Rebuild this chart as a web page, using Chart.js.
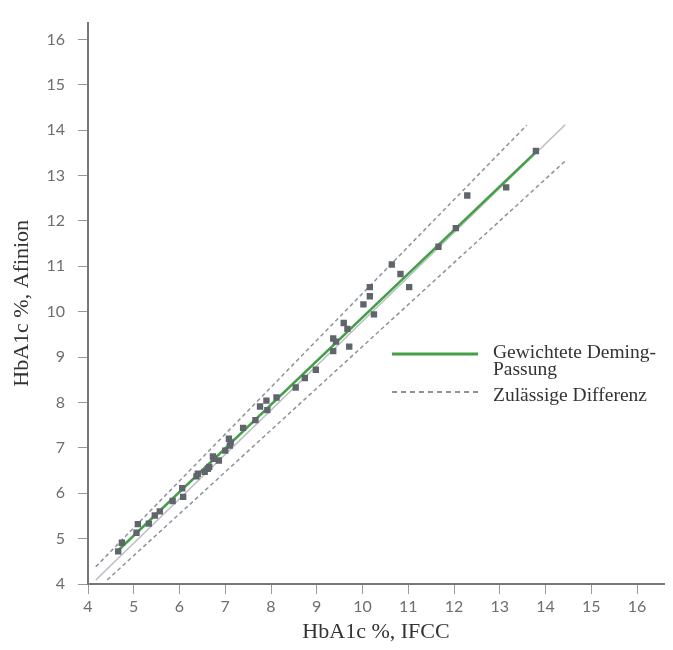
<!DOCTYPE html>
<html>
<head>
<meta charset="utf-8">
<script src="https://cdn.jsdelivr.net/npm/chart.js@4"></script>
<style>
    html, body { margin: 0; padding: 0; background: #fff; }
</style>
</head>
<body>
<canvas id="chart" width="673" height="650"></canvas>
<script>
// Messpunkte (HbA1c IFCC vs Afinion)
const ifcc = [4.66, 4.74, 5.06, 5.09, 5.33, 5.46, 5.57, 5.85, 6.06, 6.08, 6.37, 6.40, 6.55, 6.62, 6.65, 6.73, 6.75, 6.86, 7.00, 7.08,
    7.10, 7.12, 7.39, 7.66, 7.76, 7.90, 7.92, 8.12, 8.54, 8.74, 8.98, 9.36, 9.36, 9.42, 9.59, 9.67, 9.71, 10.02, 10.16, 10.16,
    10.25, 10.64, 10.83, 11.02, 11.66, 12.04, 12.29, 13.14, 13.79]
const afinion = [4.72, 4.91, 5.13, 5.32, 5.33, 5.51, 5.60, 5.83, 6.11, 5.92, 6.37, 6.43, 6.47, 6.54, 6.58, 6.81, 6.76, 6.72, 6.94, 7.20,
    7.05, 7.12, 7.44, 7.61, 7.91, 8.04, 7.83, 8.11, 8.33, 8.54, 8.72, 9.13, 9.41, 9.34, 9.75, 9.62, 9.23, 10.16, 10.54, 10.34,
    9.94, 11.04, 10.83, 10.54, 11.43, 11.84, 12.56, 12.74, 13.54]

// Linien (Endpunkte)
const identX = [4.17, 14.43]
const identY = [4.09, 14.12]
const upperX = [4.17, 13.59]
const upperY = [4.38, 14.11]
const lowerX = [4.42, 14.43]
const lowerY = [4.09, 13.32]
const demingX = [4.63, 13.81]
const demingY = [4.71, 13.54]

const xTicks = [4, 5, 6, 7, 8, 9, 10, 11, 12, 13, 14, 15, 16]
const yTicks = [4, 5, 6, 7, 8, 9, 10, 11, 12, 13, 14, 15, 16]

const toPoints = (xs, ys) => xs.map((x, i) => ({ x: x, y: ys[i] }))

const green = '#43a047'
const dashGray = '#8e929a'

// Legende direkt im Diagramm
const legendPlugin = {
    id: 'legendInside',
    afterDraw(chart) {
        const ctx = chart.ctx
        ctx.save()
        ctx.strokeStyle = green
        ctx.lineWidth = 3
        ctx.beginPath()
        ctx.moveTo(392, 354)
        ctx.lineTo(478, 354)
        ctx.stroke()

        ctx.strokeStyle = dashGray
        ctx.lineWidth = 2
        ctx.setLineDash([5, 4])
        ctx.beginPath()
        ctx.moveTo(392, 392)
        ctx.lineTo(478, 392)
        ctx.stroke()
        ctx.setLineDash([])

        ctx.fillStyle = '#333'
        ctx.font = '19.5px "Liberation Serif"'
        ctx.textBaseline = 'alphabetic'
        ctx.fillText('Gewichtete Deming-', 493, 358)
        ctx.fillText('Passung', 493, 375)
        ctx.fillText('Zulässige Differenz', 493, 401)
        ctx.restore()
    }
}

new Chart(document.getElementById('chart'), {
    type: 'scatter',
    data: {
        datasets: [
            {
                label: 'Messwerte',
                data: toPoints(ifcc, afinion),
                pointStyle: 'rect',
                pointRadius: 4.5,
                pointBorderWidth: 0,
                backgroundColor: '#60656c'
            },
            {
                label: 'Gewichtete Deming-Passung',
                data: toPoints(demingX, demingY),
                showLine: true,
                pointRadius: 0,
                borderColor: green,
                borderWidth: 2.5
            },
            {
                label: 'Zulässige Differenz oben',
                data: toPoints(upperX, upperY),
                showLine: true,
                pointRadius: 0,
                borderColor: dashGray,
                borderWidth: 1.5,
                borderDash: [4, 3]
            },
            {
                label: 'Zulässige Differenz unten',
                data: toPoints(lowerX, lowerY),
                showLine: true,
                pointRadius: 0,
                borderColor: dashGray,
                borderWidth: 1.5,
                borderDash: [4, 3]
            },
            {
                label: 'Identität',
                data: toPoints(identX, identY),
                showLine: true,
                pointRadius: 0,
                borderColor: '#b9bcc3',
                borderWidth: 1.5
            }
        ]
    },
    options: {
        responsive: false,
        animation: false,
        devicePixelRatio: 1,
        layout: { padding: { top: 20, right: 9, left: 0, bottom: 0 } },
        plugins: {
            legend: { display: false },
            tooltip: { enabled: false }
        },
        scales: {
            x: {
                type: 'linear',
                min: 4,
                max: 16.59,
                afterFit: (scale) => { scale.height = 66 },
                afterBuildTicks: (scale) => { scale.ticks = xTicks.map((v) => ({ value: v })) },
                border: { color: '#777', width: 2 },
                grid: { drawOnChartArea: false, tickLength: 10, color: '#999', lineWidth: 1 },
                ticks: {
                    padding: 3,
                    color: '#6e6e6e',
                    font: { family: 'Lato', size: 16 },
                    maxRotation: 0
                },
                title: {
                    display: true,
                    text: 'HbA1c %, IFCC',
                    color: '#333',
                    font: { family: 'Liberation Serif', size: 22 },
                    padding: { top: 0, bottom: 5 }
                }
            },
            y: {
                type: 'linear',
                min: 4,
                max: 16.37,
                afterFit: (scale) => { scale.width = 88 },
                afterBuildTicks: (scale) => { scale.ticks = yTicks.map((v) => ({ value: v })) },
                border: { color: '#777', width: 2 },
                grid: { drawOnChartArea: false, tickLength: 10, color: '#999', lineWidth: 1 },
                ticks: {
                    padding: 13,
                    color: '#6e6e6e',
                    font: { family: 'Lato', size: 16 }
                },
                title: {
                    display: true,
                    text: 'HbA1c %, Afinion',
                    color: '#333',
                    font: { family: 'Liberation Serif', size: 22 },
                    padding: { top: 9, bottom: 0 }
                }
            }
        }
    },
    plugins: [legendPlugin]
})
</script>
</body>
</html>
